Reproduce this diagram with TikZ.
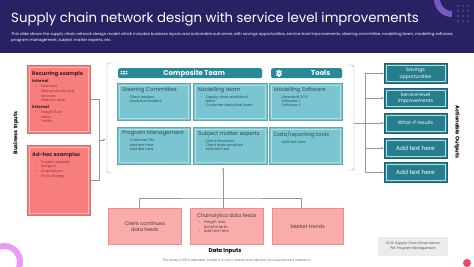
\documentclass[tikz,border=0pt]{standalone}
\usepackage{fontspec}
\setmainfont{Poppins}
\usetikzlibrary{positioning,arrows.meta,calc}
\definecolor{NavyHead}{RGB}{40,34,98}
\definecolor{TealBar}{RGB}{40,138,150}
\definecolor{TealDark}{RGB}{38,126,140}
\definecolor{TealCell}{RGB}{122,197,207}
\definecolor{TealEdge}{RGB}{92,170,182}
\definecolor{TealInner}{RGB}{172,222,228}
\definecolor{CoralBox}{RGB}{247,126,124}
\definecolor{CoralInner}{RGB}{252,184,180}
\definecolor{RoseBox}{RGB}{249,172,170}
\definecolor{RoseEdge}{RGB}{242,140,140}
\definecolor{CellText}{RGB}{38,78,90}
\definecolor{CoralText}{RGB}{70,30,30}
\definecolor{CoralBullet}{RGB}{150,50,50}
\definecolor{LineGray}{RGB}{150,150,150}
\definecolor{RingPurple}{RGB}{128,96,206}
\definecolor{RingPink}{RGB}{228,130,242}
\definecolor{DotRed}{RGB}{232,74,95}
\newcommand\fsz[1]{\fontsize{#1}{#1}\selectfont}
\newcommand\itm[1]{\hspace*{3pt}{\color{CellText!70}•}\hspace{3pt}#1}
\newcommand\itmc[1]{\hspace*{3pt}{\phantom{•}}\hspace{3pt}#1}
\newcommand\ritm[1]{\hspace*{3pt}{\color{CoralBullet}-}\hspace{4pt}{\color{CoralBullet}#1}}
\newcommand\ritmc[1]{\hspace*{3pt}{\phantom{-}}\hspace{4pt}{\color{CoralBullet}#1}}
\tikzset{
  inset/.style={path picture={\draw[#1, line width=0.5pt]
      ([shift={(2pt,-2pt)}]path picture bounding box.north west) rectangle
      ([shift={(-2pt,2pt)}]path picture bounding box.south east);}},
  cbox/.style={draw=CoralBox!90!black, fill=CoralBox, line width=0.4pt,
               inset=CoralInner, anchor=north west, inner sep=0pt},
  cellbox/.style={draw=TealEdge, fill=TealCell, line width=0.6pt,
               inset=TealInner, anchor=north west, inner sep=0pt,
               minimum height=37pt},
  obox/.style={draw=TealDark!80!black, fill=TealDark, line width=0.4pt,
               inset=TealInner, minimum width=63pt, minimum height=20pt,
               inner sep=0pt, text=white, align=center, font=\fsz{4.8}},
  rbox/.style={draw=RoseEdge, fill=RoseBox, line width=0.5pt,
               anchor=north west, minimum height=36pt, inner sep=0pt,
               text=black!75, align=center, font=\fsz{5}},
  bar/.style={fill=TealBar, rounded corners=1.5pt, anchor=north west,
              minimum height=10pt, inner sep=0pt},
  celltxt/.style={anchor=north west, align=left, inner sep=0pt,
                  text=CellText, font=\fsz{3.6}},
  cortxt/.style={anchor=north west, align=left, inner sep=0pt,
                 text=CoralText, font=\fsz{3.6}},
  sidelbl/.style={font=\fsz{5.3}\bfseries, text=black},
  conn/.style={draw=LineGray, line width=0.4pt},
  arrowc/.style={conn, -{Stealth[length=2.5pt,width=2pt]}},
}
\begin{document}
\begin{tikzpicture}[x=1pt,y=-1pt]
\useasboundingbox (0,0) rectangle (474,266);
% header band
\fill[NavyHead] (0,0) rectangle (474,53);
\draw[RingPurple, opacity=0.9, line width=6pt] (452,14) arc[start angle=90, end angle=340, radius=15];
\foreach \i in {0,1,2} \foreach \j in {0,...,3}
  \fill[white, opacity=0.6] (458+5*\i,6+5*\j) circle (0.6);
\node[anchor=west, inner sep=0pt, text=white, font=\fsz{13.3}] (title) at (11,19)
  {Supply chain network design with service level improvements};
\node[anchor=north west, inner sep=0pt, text=white, align=left, font=\fsz{3.9}] (subtitle) at (11,32)
  {This slide shows the supply chain network design model which includes business inputs and actionable outcomes with savings opportunities, service level improvements, steering committee, modelling team, modelling software,\\[1pt]
   program management, subject matter experts, etc.};

% business inputs
\node[sidelbl, rotate=90] (bi) at (16,133) {Business Inputs};
\node[cbox, minimum width=63pt, minimum height=68pt] (rc) at (27,65) {};
\node[cortxt] (rc-t) at ([shift={(5pt,-6pt)}]rc.north west)
  {{\fsz{5.2}\bfseries Recurring example}\\[2pt]
   {\fsz{4}\bfseries Internal}\\[1.5pt]
   \ritm{Demand}\\[0.6pt] \ritm{New products and}\\[0.6pt] \ritmc{services}\\[0.6pt] \ritm{Add text here}\\[3pt]
   {\fsz{4}\bfseries External}\\[1.5pt]
   \ritm{Freight/fuel}\\[0.6pt] \ritm{Labor}\\[0.6pt] \ritm{Tariffs}};
\node[cbox, minimum width=63pt, minimum height=70pt] (ah) at (27,145) {};
\node[cortxt] (ah-t) at ([shift={(5pt,-7pt)}]ah.north west)
  {{\fsz{5.2}\bfseries Ad-hoc examples}\\[2pt]
   \ritm{Project requests}\\[0.6pt] \ritm{Mergers}\\[0.6pt] \ritm{Acquisitions}\\[0.6pt] \ritm{Price change}};
\coordinate (inJ) at ($(rc.east)!0.5!(ah.east)+(9,0)$);
\draw[conn] (rc.east) -| (inJ) |- (ah.east);
\draw[arrowc] (inJ) -- ++(6,0);

% composite team and tools
\draw[conn, rounded corners=2pt] (113,63) -| (107,173) -- (113,173);
\node[bar, minimum width=144pt] (ct) at (118,68) {};
\node[text=white, font=\fsz{7}\bfseries, inner sep=0pt] (ct-t) at ([xshift=4pt]ct.center) {Composite Team};
\foreach \dx in {-2.5,0,2.5}
  \fill[white] ([xshift={\dx*1pt+6pt}]ct.west) ++(0,-1.6) circle (0.9) ++(-0.9,1.4) rectangle ++(1.8,1.4);
\node[bar, minimum width=71pt] (tl) at (271,68) {};
\node[text=white, font=\fsz{7}\bfseries, inner sep=0pt] (tl-t) at ([xshift=14pt]tl.center) {Tools};
\fill[white] ([xshift=8pt]tl.west) circle (2.2);
\foreach \a in {0,45,...,315}
  \draw[white, line width=1.2pt] ([xshift=8pt]tl.west) -- ++(\a:3.4);
\fill[TealBar] ([xshift=8pt]tl.west) circle (0.8);

\node[cellbox, minimum width=73pt] (sc) at (117,83) {};
\node[cellbox, minimum width=74pt] (mt) at (193,83) {};
\node[cellbox, minimum width=73pt] (ms) at (269,83) {};
\node[cellbox, minimum width=73pt] (pm) at (117,127) {};
\node[cellbox, minimum width=74pt] (sm) at (193,127) {};
\node[cellbox, minimum width=73pt] (dr) at (269,127) {};
\node[celltxt] (sc-t) at ([shift={(5pt,-4pt)}]sc.north west)
  {{\fsz{5.4}Steering Committee}\\[2pt] \itm{Client leaders}\\[0.5pt] \itm{Analytical leaders}};
\node[celltxt] (mt-t) at ([shift={(5pt,-4pt)}]mt.north west)
  {{\fsz{5.4}Modelling team}\\[2pt] \itm{Supply chain analytical}\\[0.5pt] \itmc{team}\\[0.5pt] \itm{Customer analytical team}};
\node[celltxt] (ms-t) at ([shift={(5pt,-4pt)}]ms.north west)
  {{\fsz{5.4}Modelling Software}\\[2pt] \itm{Llamasoft SCG}\\[0.5pt] \itm{Software 1}\\[0.5pt] \itm{Software 2}};
\node[celltxt] (pm-t) at ([shift={(5pt,-4pt)}]pm.north west)
  {{\fsz{5.4}Program Management}\\[2pt] \itm{Customer PM}\\[0.5pt] \itm{Add text here}\\[0.5pt] \itm{Add text here}};
\node[celltxt] (sm-t) at ([shift={(5pt,-4pt)}]sm.north west)
  {{\fsz{5.4}Subject matter experts}\\[2pt] \itm{Client financials}\\[0.5pt] \itm{Client data analytics}\\[0.5pt] \itm{Add text here}};
\node[celltxt] (dr-t) at ([shift={(5pt,-4pt)}]dr.north west)
  {{\fsz{5.4}Data/reporting tools}\\[2pt] \itm{Add text here}};

% actionable outputs
\draw[conn, rounded corners=2pt] (347,65) -| (354,170) -- (347,170);
\coordinate (outJ) at (365,123);
\draw[conn] (354,123) -- (outJ);
\node[obox] (o1) at (415.5,73.5) {Savings\\[1pt]opportunities};
\node[obox] (o2) at (415.5,98) {Service level\\[1pt]improvements};
\node[obox] (o3) at (415.5,123) {What-if results};
\node[obox, font=\fsz{5.8}] (o4) at (415.5,148) {Add text here};
\node[obox, font=\fsz{5.8}] (o5) at (415.5,172.5) {Add text here};
\draw[conn] (o1.west -| outJ) -- (o5.west -| outJ);
\foreach \o in {o1,o2,o3,o4,o5}
  \draw[arrowc] (\o.west -| outJ) -- (\o.west);
\node[sidelbl, rotate=-90] (ao) at (457,132) {Actionable Outputs};

% data inputs
\node[rbox, minimum width=73pt] (cf) at (108,208) {Client continues\\[1pt]data feeds};
\node[rbox, minimum width=73pt] (cd) at (190,208) {};
\node[anchor=north, inner sep=0pt, text=black!75, font=\fsz{5}] (cd-t) at ([yshift=-5pt]cd.north) {Chainalytics data feeds};
\node[anchor=north west, inner sep=0pt, align=left, text=black!70, font=\fsz{3.8}] (cd-b) at ([shift={(9pt,-12pt)}]cd.north west)
  {{\color{CoralBullet}•}\hspace{3pt}Freight rate\\[0.5pt] \phantom{•}\hspace{3pt}benchmarks\\[0.5pt] {\color{CoralBullet}•}\hspace{3pt}Add text here};
\node[rbox, minimum width=71pt] (mk) at (272,208) {Market trends};
\coordinate (diJ) at (223,198);
\draw[conn] ([xshift=-6pt]cf.north) |- (diJ) -| ([xshift=-7pt]mk.north);
\draw[conn] (diJ) -- (diJ |- cd.north);
\draw[arrowc, shorten >=3pt] (diJ) -- (diJ |- sm.south);
\node[font=\fsz{5.5}\bfseries, inner sep=0pt] (di) at (225,251) {Data Inputs};
\node[font=\fsz{3.4}, text=black!55, inner sep=0pt] (foot) at (237,261)
  {This slide is 100\% editable. Adapt it to your needs and capture your audience's attention.};

% legend
\node[fill=black!8, minimum width=70pt, minimum height=19pt, align=center, inner sep=0pt,
      text=black!70, font=\fsz{3.4}] (lg) at (413,246.5)
  {SCG: Supply Chain Governance\\[1.5pt] PM: Program Management};

% decorations
\draw[RingPink, opacity=0.8, line width=6pt] (4,262) circle (16);
\fill[DotRed] (467,263) circle (4);
\end{tikzpicture}
\end{document}
